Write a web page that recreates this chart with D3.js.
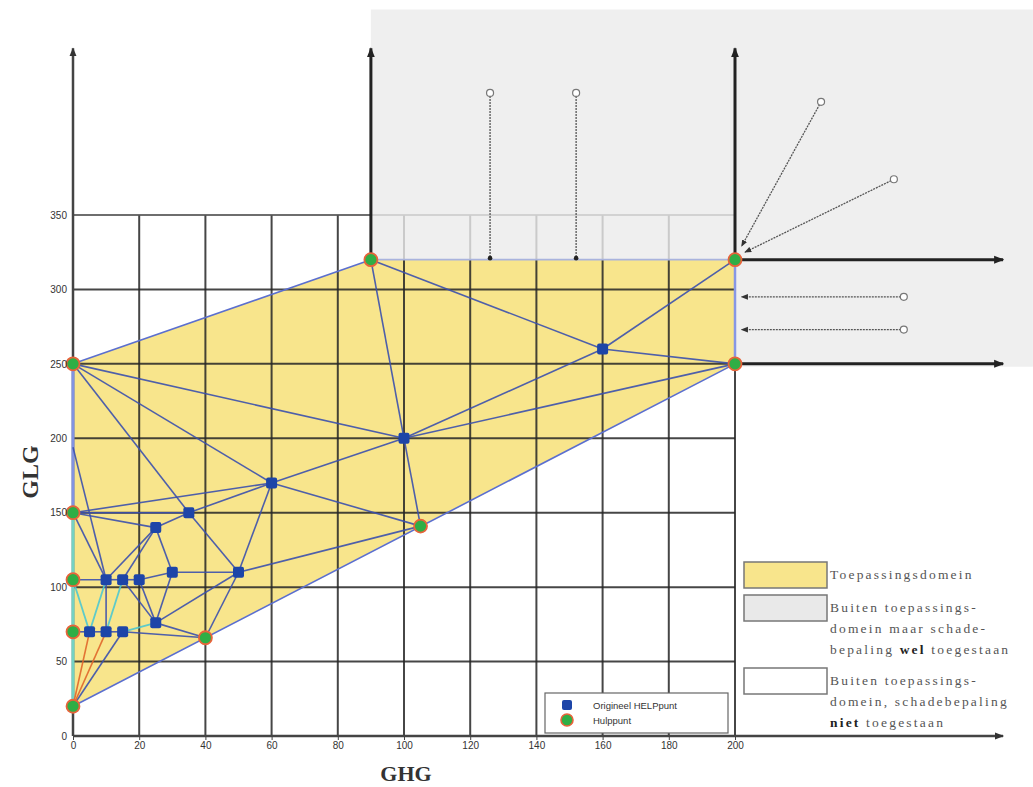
<!DOCTYPE html>
<html>
<head>
<meta charset="utf-8">
<script src="https://cdn.jsdelivr.net/npm/d3@7"></script>
<style>
  html, body { margin: 0; padding: 0; background: #fff; }
  svg { display: block; }
  .tick text { font-family: "Liberation Sans", Arial, sans-serif; font-size: 10px; fill: #333; }
  .tick line { stroke: #444; }
</style>
</head>
<body>
<svg id="chart" width="1033" height="787"></svg>
<script>
// Axis ticks (GHG horizontally, GLG vertically, in cm)
const xTicks = [0, 20, 40, 60, 80, 100, 120, 140, 160, 180, 200];
const yTicks = [0, 50, 100, 150, 200, 250, 300, 350];

// Original HELP points (GHG, GLG)
const helpPoints = [
  ["O1", 160, 260], ["O2", 100, 200], ["O3", 60, 170], ["O4", 35, 150],
  ["O5", 25, 140], ["O6", 50, 110], ["O7", 30, 110], ["O8", 20, 105],
  ["O9", 15, 105], ["O10", 10, 105], ["O11", 25, 76], ["O12", 5, 70],
  ["O13", 10, 70], ["O14", 15, 70]
];

// Auxiliary points on the edge of the domain
const auxPoints = [
  ["H1", 0, 250], ["H2", 0, 150], ["H3", 0, 105], ["H4", 0, 70], ["H5", 0, 20],
  ["H6", 40, 66], ["H7", 105, 141], ["H8", 90, 320], ["H9", 200, 320], ["H10", 200, 250]
];

// Where an edge meets the left border without a point
const borderJoints = [["B1", 0, 194]];

// Application domain outline
const domainOutline = ["H5", "H6", "H7", "H10", "H9", "H8", "H1", "H2", "H3", "H4"];

// Triangulation edges
const blueEdges = [
  ["H8","O1"],["O1","H9"],["O1","H10"],["O1","O2"],["O2","H10"],["O2","H8"],["O2","H7"],
  ["O2","H1"],["O2","O3"],["O3","H1"],["O3","H7"],["O3","O6"],["O3","O4"],["O3","H2"],
  ["O4","H1"],["O4","H2"],["O4","O5"],["O4","O6"],["O5","H2"],["O5","O7"],["O5","O10"],
  ["O5","O9"],["O6","H7"],["O6","H6"],["O6","O7"],["O6","O11"],["O7","O8"],["O7","O11"],
  ["O8","O9"],["O8","O11"],["O9","O11"],["O9","O10"],["O10","H3"],["O10","H2"],["O10","B1"],
  ["O10","O13"],["O11","H6"],["O14","H6"],["O14","O13"],["O13","O12"],["O12","H4"],["H5","O14"]
];
const cyanEdges = [["O12","H3"],["O12","O10"],["O13","O9"],["O14","O11"]];
const orangeEdges = [["H5","O12"],["H5","O13"]];

// Points outside the domain and where they are moved onto its edge
const outsideFrom = [[126, 432], [152, 432], [226, 426], [248, 374], [251, 295], [251, 273]];
const outsideTo   = [[126, 321], [152, 321], [202, 329], [203, 325], [202, 295], [202, 273]];

// Region outside the domain where damage assessment is still allowed
const grayRegion = [[90, 488], [290, 488], [290, 248], [200, 248], [200, 320], [90, 320]];

const legendItems = [
  { fill: "#f8e58c", lines: [[["Toepassingsdomein", false]]] },
  { fill: "#e9e9e9", lines: [[["Buiten toepassings-", false]], [["domein maar schade-", false]],
                             [["bepaling ", false], ["wel", true], [" toegestaan", false]]] },
  { fill: "#ffffff", lines: [[["Buiten toepassings-", false]], [["domein, schadebepaling", false]],
                             [["niet", true], [" toegestaan", false]]] }
];

const svg = d3.select("#chart");
const x = d3.scaleLinear().domain([0, 200]).range([73, 735]);
const y = d3.scaleLinear().domain([0, 350]).range([736, 215]);

const nodes = new Map();
[...helpPoints, ...auxPoints, ...borderJoints].forEach(([id, gx, gy]) => nodes.set(id, [gx, gy]));
const px = id => x(nodes.get(id)[0]);
const py = id => y(nodes.get(id)[1]);

const defs = svg.append("defs");
function arrowMarker(id, color, size) {
  defs.append("marker").attr("id", id).attr("viewBox", "0 0 10 10")
    .attr("refX", 9).attr("refY", 5).attr("markerWidth", size).attr("markerHeight", size)
    .attr("markerUnits", "userSpaceOnUse").attr("orient", "auto")
    .append("path").attr("d", "M0,1 L10,5 L0,9 Z").attr("fill", color);
}
arrowMarker("bigArrow", "#222", 10);
arrowMarker("axArrow", "#333", 9);
arrowMarker("smallArrow", "#333", 7);

// Yellow application domain
const line = d3.line().x(d => x(d[0])).y(d => y(d[1]));
svg.append("path")
  .attr("d", line(domainOutline.map(id => nodes.get(id))) + "Z")
  .attr("fill", "#f8e58c");

// Grid
const grid = svg.append("g").attr("stroke", "#262626").attr("stroke-width", 2).attr("stroke-opacity", 0.85);
xTicks.filter(v => v !== 200).forEach(v => {
  grid.append("line").attr("x1", x(v)).attr("x2", x(v)).attr("y1", y(0)).attr("y2", y(350));
});
grid.append("line").attr("x1", x(200)).attr("x2", x(200)).attr("y1", y(0)).attr("y2", y(250));
yTicks.forEach(v => {
  grid.append("line").attr("x1", x(0)).attr("x2", x(200)).attr("y1", y(v)).attr("y2", y(v))
    .attr("stroke", v === 350 ? "#555" : null);
});

// Gray region above/right of the domain
svg.append("path").attr("d", line(grayRegion) + "Z")
  .attr("fill", "#ebebeb").attr("fill-opacity", 0.8);

// Axes with arrows
const axes = svg.append("g").attr("fill", "none");
axes.append("line").attr("x1", x(0)).attr("x2", x(0)).attr("y1", y(0)).attr("y2", y(462))
  .attr("stroke", "#444").attr("stroke-width", 2.5).attr("marker-end", "url(#axArrow)");
axes.append("line").attr("x1", x(0)).attr("x2", x(281)).attr("y1", y(0)).attr("y2", y(0))
  .attr("stroke", "#444").attr("stroke-width", 2.5).attr("marker-end", "url(#axArrow)");
axes.append("line").attr("x1", x(90)).attr("x2", x(90)).attr("y1", y(320)).attr("y2", y(462))
  .attr("stroke", "#222").attr("stroke-width", 3).attr("marker-end", "url(#bigArrow)");
axes.append("line").attr("x1", x(200)).attr("x2", x(200)).attr("y1", y(320)).attr("y2", y(462))
  .attr("stroke", "#222").attr("stroke-width", 3).attr("marker-end", "url(#bigArrow)");
axes.append("line").attr("x1", x(200)).attr("x2", x(281)).attr("y1", y(320)).attr("y2", y(320))
  .attr("stroke", "#222").attr("stroke-width", 3).attr("marker-end", "url(#bigArrow)");
axes.append("line").attr("x1", x(200)).attr("x2", x(281)).attr("y1", y(250)).attr("y2", y(250))
  .attr("stroke", "#222").attr("stroke-width", 3).attr("marker-end", "url(#bigArrow)");

// Domain border
const border = svg.append("g").attr("fill", "none").attr("stroke-linecap", "round");
border.append("path").attr("d", line(["H5","H10"].map(id => nodes.get(id))))
  .attr("stroke", "#5b6fcf").attr("stroke-width", 1.6);
border.append("path").attr("d", line(["H10","H9"].map(id => nodes.get(id))))
  .attr("stroke", "#8797e4").attr("stroke-width", 2.5);
border.append("path").attr("d", line(["H9","H8"].map(id => nodes.get(id))))
  .attr("stroke", "#a9b3dd").attr("stroke-width", 1.6);
border.append("path").attr("d", line(["H8","H1"].map(id => nodes.get(id))))
  .attr("stroke", "#5b6fcf").attr("stroke-width", 1.6);
border.append("path").attr("d", line(["H1","H2"].map(id => nodes.get(id))))
  .attr("stroke", "#8293e2").attr("stroke-width", 3);
border.append("path").attr("d", line(["H2","H5"].map(id => nodes.get(id))))
  .attr("stroke", "#74d2c4").attr("stroke-width", 3);

// Triangulation
function drawEdges(list, color, width) {
  svg.append("g").selectAll("line").data(list).join("line")
    .attr("x1", d => px(d[0])).attr("y1", d => py(d[0]))
    .attr("x2", d => px(d[1])).attr("y2", d => py(d[1]))
    .attr("stroke", color).attr("stroke-width", width).attr("stroke-opacity", 0.9);
}
drawEdges(blueEdges, "#3b50ad", 1.6);
drawEdges(cyanEdges, "#4cc8d0", 1.8);
drawEdges(orangeEdges, "#e0662a", 1.6);

// Moved points outside the domain
const outside = svg.append("g");
outsideFrom.forEach((s, i) => {
  const t = outsideTo[i];
  const vertical = s[0] === t[0];
  outside.append("line")
    .attr("x1", x(s[0])).attr("y1", y(s[1])).attr("x2", x(t[0])).attr("y2", y(t[1]))
    .attr("stroke", "#555").attr("stroke-width", 1.3).attr("stroke-dasharray", "2,1")
    .attr("marker-end", vertical ? null : "url(#smallArrow)");
  if (vertical) {
    outside.append("circle").attr("cx", x(t[0])).attr("cy", y(t[1])).attr("r", 2.3).attr("fill", "#222");
  }
  outside.append("circle").attr("cx", x(s[0])).attr("cy", y(s[1])).attr("r", 3.5)
    .attr("fill", "#fff").attr("stroke", "#777").attr("stroke-width", 1.2);
});

// Point markers
svg.append("g").selectAll("rect").data(helpPoints).join("rect")
  .attr("x", d => x(d[1]) - 5.5).attr("y", d => y(d[2]) - 5.5)
  .attr("width", 11).attr("height", 11).attr("rx", 2)
  .attr("fill", "#1d45a8");
svg.append("g").selectAll("circle").data(auxPoints).join("circle")
  .attr("cx", d => x(d[1])).attr("cy", d => y(d[2])).attr("r", 6.5)
  .attr("fill", "#2fae45").attr("stroke", "#e8633a").attr("stroke-width", 1.8);

// Tick labels
const xAxis = svg.append("g").attr("transform", `translate(0,${y(0)})`)
  .call(d3.axisBottom(x).tickValues(xTicks).tickSize(4).tickPadding(2));
xAxis.select(".domain").remove();
const yAxis = svg.append("g").attr("transform", `translate(${x(0)},0)`)
  .call(d3.axisLeft(y).tickValues(yTicks).tickSize(0).tickPadding(6));
yAxis.select(".domain").remove();

// Axis titles
svg.append("text").attr("x", 406).attr("y", 781).attr("text-anchor", "middle")
  .style("font-family", "'Liberation Serif', 'Times New Roman', serif")
  .style("font-weight", "bold").style("font-size", "22px").attr("fill", "#333").text("GHG");
svg.append("text").attr("transform", "translate(38,472) rotate(-90)").attr("text-anchor", "middle")
  .style("font-family", "'Liberation Serif', 'Times New Roman', serif")
  .style("font-weight", "bold").style("font-size", "24px").attr("fill", "#333").text("GLG");

// Point legend
const pl = svg.append("g").attr("transform", "translate(545,693)");
pl.append("rect").attr("width", 183).attr("height", 40).attr("fill", "#fff")
  .attr("stroke", "#666").attr("stroke-width", 1.2);
pl.append("rect").attr("x", 17).attr("y", 7).attr("width", 10).attr("height", 10).attr("rx", 2).attr("fill", "#1d45a8");
pl.append("circle").attr("cx", 22).attr("cy", 27).attr("r", 6).attr("fill", "#2fae45")
  .attr("stroke", "#e8633a").attr("stroke-width", 1.6);
pl.append("text").attr("x", 48).attr("y", 16).style("font-family", "'Liberation Sans', Arial, sans-serif")
  .style("font-size", "9.5px").attr("fill", "#333").text("Origineel HELPpunt");
pl.append("text").attr("x", 48).attr("y", 31).style("font-family", "'Liberation Sans', Arial, sans-serif")
  .style("font-size", "9.5px").attr("fill", "#333").text("Hulppunt");

// Region legend
const boxTops = [562, 595, 668];
const lineStep = 21;
const rl = svg.append("g");
legendItems.forEach((item, i) => {
  rl.append("rect").attr("x", 744).attr("y", boxTops[i]).attr("width", 83).attr("height", 26)
    .attr("fill", item.fill).attr("stroke", "#777").attr("stroke-width", 1.5);
  item.lines.forEach((parts, j) => {
    const t = rl.append("text").attr("x", 830).attr("y", boxTops[i] + 17 + j * lineStep)
      .style("font-family", "'Liberation Serif', 'Times New Roman', serif")
      .style("font-size", "13.5px").style("letter-spacing", "2.2px").attr("fill", "#555");
    parts.forEach(([s, b]) => {
      t.append("tspan").text(s).style("font-weight", b ? "bold" : "normal")
        .attr("fill", b ? "#222" : null);
    });
  });
});
</script>
</body>
</html>
